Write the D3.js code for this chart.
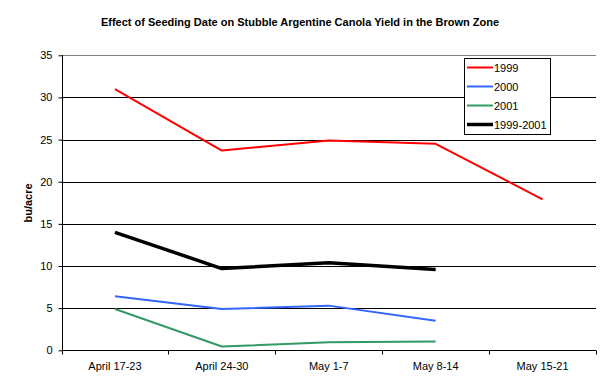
<!DOCTYPE html>
<html><head><meta charset="utf-8">
<script src="https://cdn.jsdelivr.net/npm/d3@7"></script>
<style>body{margin:0;background:#fff}svg{display:block;font-family:Arial,"Liberation Sans",sans-serif}</style>
</head><body><svg id="c" width="601" height="392"></svg>
<script>
const title = "Effect of Seeding Date on Stubble Argentine Canola Yield in the Brown Zone";
const yLabel = "bu/acre";
const categories = ["April 17-23", "April 24-30", "May 1-7", "May 8-14", "May 15-21"];
const yTicks = [0, 5, 10, 15, 20, 25, 30, 35];
const seriesNames = ["1999", "2000", "2001", "1999-2001"];
const v1999 = [31.0, 23.7, 24.9, 24.5, 17.9];
const v2000 = [6.4, 4.9, 5.3, 3.5, null];
const v2001 = [4.9, 0.45, 0.95, 1.05, null];
const vAvg = [14.0, 9.7, 10.4, 9.6, null];
const colors = ["#FF0000", "#3366FF", "#339966", "#000000"];
const widths = [2, 2, 2, 3.5];

const svg = d3.select("#c");
const m = {l: 61.5, r: 596, t: 55.3, b: 350.3};
const x = d3.scaleBand().domain(categories).range([m.l, m.r]);
const y = d3.scaleLinear().domain([0, 35]).range([m.b, m.t]);

svg.append("text").attr("x", 300).attr("y", 26).attr("text-anchor", "middle")
  .attr("font-size", 11).attr("font-weight", "bold").text(title);

// gridlines
svg.append("g").selectAll("line").data(yTicks.filter(d => d > 0)).join("line")
  .attr("x1", m.l).attr("x2", m.r).attr("y1", d => Math.round(y(d)) + 0.5).attr("y2", d => Math.round(y(d)) + 0.5)
  .attr("stroke", d => d === 35 ? "#808080" : "#000").attr("stroke-width", 1);

// y axis
const ya = svg.append("g").attr("transform", `translate(${Math.round(m.l) + 0.5},0)`)
  .call(d3.axisLeft(y).tickValues(yTicks).tickSize(4).tickPadding(6));
ya.selectAll("text").attr("font-size", 11).attr("font-family", "Arial, 'Liberation Sans', sans-serif").attr("fill", "#000");
ya.selectAll("line,path").attr("stroke", "#000");
ya.select("path").attr("d", `M0,${y(35)}V${Math.round(y(0)) + 0.5}`);

// x axis
const xa = svg.append("g").attr("transform", `translate(0,${Math.round(m.b) + 0.5})`)
  .call(d3.axisBottom(x).tickSize(0).tickPadding(12));
xa.selectAll("text").attr("font-size", 11).attr("font-family", "Arial, 'Liberation Sans', sans-serif").attr("fill", "#000");
xa.select("path").attr("stroke", "#000").attr("d", `M${m.l},0H${m.r}`);
const bounds = categories.map(c => x(c)).concat([x(categories[categories.length - 1]) + x.bandwidth()]);
xa.selectAll(".bt").data(bounds.slice(0, 6)).join("line").attr("class", "bt")
  .attr("x1", d => Math.round(d) + 0.5).attr("x2", d => Math.round(d) + 0.5)
  .attr("y1", 0).attr("y2", 4).attr("stroke", "#000");

svg.append("text").attr("transform", "translate(32,203) rotate(-90)").attr("text-anchor", "middle")
  .attr("font-size", 11).attr("font-weight", "bold").text(yLabel);

const all = [v1999, v2000, v2001, vAvg];
const line = d3.line().defined(d => d.v != null)
  .x(d => x(d.c) + x.bandwidth() / 2).y(d => y(d.v)).curve(d3.curveLinear);
all.forEach((vals, i) => {
  const pts = vals.map((v, j) => ({c: categories[j], v})).filter(d => d.v != null);
  svg.append("path").datum(pts).attr("d", line).attr("fill", "none")
    .attr("stroke", colors[i]).attr("stroke-width", widths[i]).attr("stroke-linejoin", "round");
});

// legend
const lg = svg.append("g");
lg.append("rect").attr("x", 464.5).attr("y", 58.5).attr("width", 86).attr("height", 76)
  .attr("fill", "#fff").attr("stroke", "#000");
seriesNames.forEach((n, i) => {
  const yy = 67.5 + i * 19;
  lg.append("line").attr("x1", 467).attr("x2", 493).attr("y1", yy).attr("y2", yy)
    .attr("stroke", colors[i]).attr("stroke-width", i === 3 ? 3.5 : 2);
  lg.append("text").attr("x", 494).attr("y", yy + 4).attr("font-size", 11).text(n);
});
</script></body></html>
